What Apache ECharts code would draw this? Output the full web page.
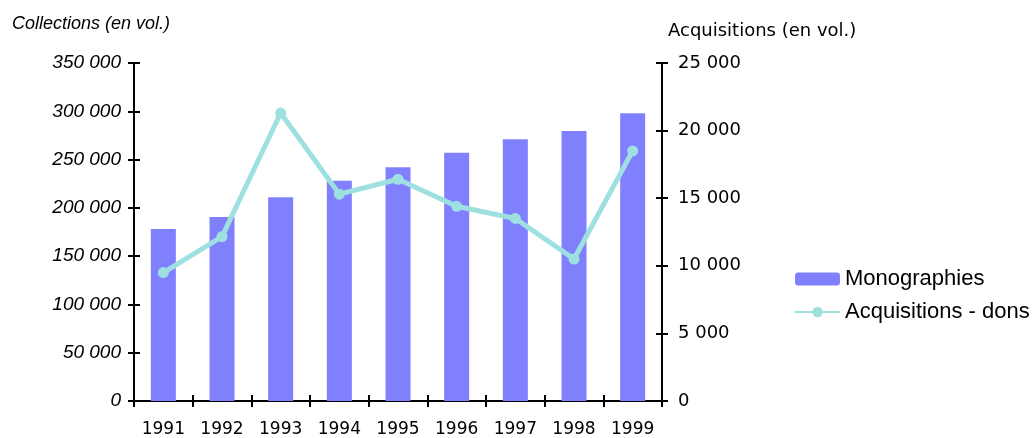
<!DOCTYPE html>
<html>
<head>
<meta charset="utf-8">
<script src="https://cdn.jsdelivr.net/npm/echarts@6/dist/echarts.min.js"></script>
<style>
  html, body { margin: 0; padding: 0; background: #fff; }
  #main { width: 1036px; height: 438px; }
</style>
</head>
<body>
<div id="main"></div>
<script>
// data
const years = ['1991', '1992', '1993', '1994', '1995', '1996', '1997', '1998', '1999'];
const monographies = [178000, 190500, 211000, 228000, 242000, 257000, 271000, 279500, 298000];
const acquisitionsDons = [9500, 12150, 21300, 15300, 16400, 14400, 13500, 10500, 18500];

const leftMax = 350000, leftStep = 50000;
const rightMax = 25000, rightStep = 5000;

function spaced(v) {
  // 350000 -> "350 000"
  return String(v).replace(/\B(?=(\d{3})+(?!\d))/g, ' ');
}

const chart = echarts.init(document.getElementById('main'));

const axisLine = { show: true, lineStyle: { color: '#000', width: 2 } };
const tickOut = { show: true, length: 6, lineStyle: { color: '#000', width: 2 } };
const tickIn = { show: true, inside: true, length: 6, lineStyle: { color: '#000', width: 2 } };

// extra unlabeled axes only carry the inner half of the crossing ticks
function innerY(max, step, pos) {
  return {
    type: 'value', min: 0, max: max, interval: step, position: pos,
    splitLine: { show: false }, axisLine: { show: false },
    axisTick: tickIn, axisLabel: { show: false }
  };
}

let option = {
  animation: false,
  backgroundColor: '#fff',
  grid: { left: 134, right: 374, top: 63, bottom: 37 },
  legend: {
    orient: 'vertical',
    left: 789,
    top: 263,
    itemWidth: 45,
    itemHeight: 13,
    itemGap: 11,
    textStyle: { fontFamily: 'Liberation Sans', fontSize: 22, color: '#000' },
    data: ['Monographies', 'Acquisitions - dons']
  },
  graphic: [
    { type: 'text', left: 12, top: 15,
      style: { text: 'Collections (en vol.)', fontFamily: 'Liberation Sans', fontStyle: 'italic', fontSize: 18, fill: '#000' } },
    { type: 'text', left: 668, top: 22,
      style: { text: 'Acquisitions (en vol.)', fontFamily: 'DejaVu Sans', fontSize: 18, fill: '#000' } }
  ],
  xAxis: [
    {
      type: 'category',
      data: years,
      boundaryGap: true,
      axisLine: axisLine,
      axisTick: tickOut,
      axisLabel: { margin: 20, fontFamily: 'DejaVu Sans', fontSize: 17, color: '#000' }
    },
    {
      type: 'category',
      data: years,
      position: 'bottom',
      boundaryGap: true,
      axisLine: { show: false },
      axisTick: tickIn,
      axisLabel: { show: false }
    }
  ],
  yAxis: [
    {
      type: 'value',
      min: 0, max: leftMax, interval: leftStep,
      position: 'left',
      splitLine: { show: false },
      axisLine: axisLine,
      axisTick: tickOut,
      axisLabel: {
        margin: 13, fontFamily: 'Liberation Sans', fontStyle: 'italic', fontSize: 19, color: '#000',
        padding: [5, 0, 0, 0],
        formatter: spaced
      }
    },
    {
      type: 'value',
      min: 0, max: rightMax, interval: rightStep,
      position: 'right',
      splitLine: { show: false },
      axisLine: axisLine,
      axisTick: tickOut,
      axisLabel: {
        margin: 16, fontFamily: 'DejaVu Sans', fontSize: 18, color: '#000',
        padding: [4, 0, 0, 0],
        formatter: spaced
      }
    },
    innerY(leftMax, leftStep, 'left'),
    innerY(rightMax, rightStep, 'right')
  ],
  series: [
    {
      name: 'Monographies',
      type: 'bar',
      yAxisIndex: 0,
      barWidth: 25,
      itemStyle: { color: '#8080ff' },
      data: monographies
    },
    {
      name: 'Acquisitions - dons',
      type: 'line',
      yAxisIndex: 1,
      symbol: 'circle',
      symbolSize: 11,
      lineStyle: { color: '#9ee0e0', width: 5 },
      itemStyle: { color: '#9ee0e0' },
      z: 3,
      data: acquisitionsDons
    }
  ]
};

chart.setOption(option);
</script>
</body>
</html>
